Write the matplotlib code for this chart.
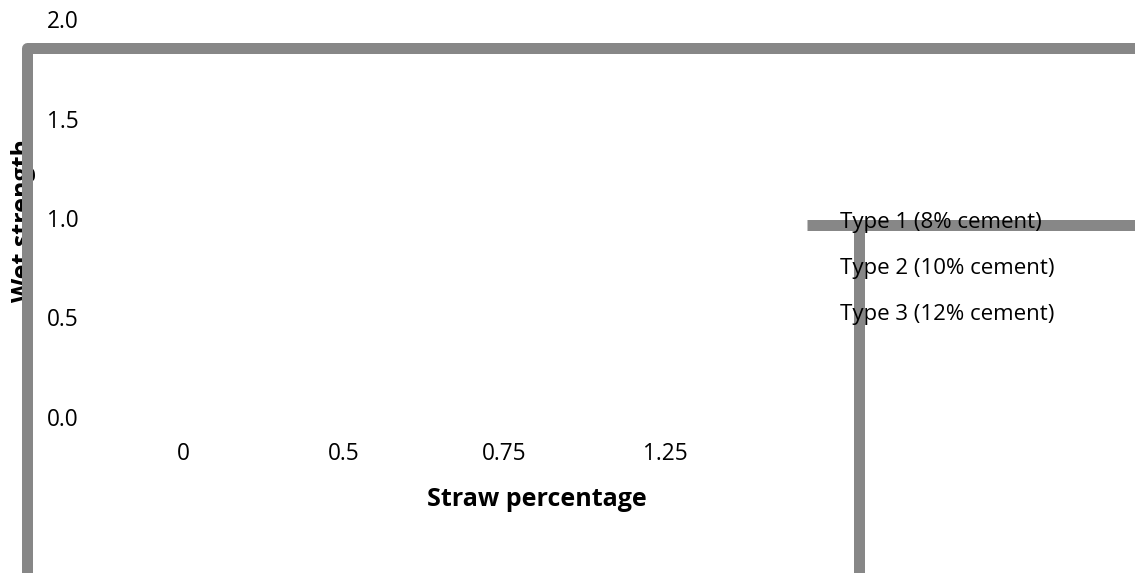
import matplotlib
matplotlib.use("Agg")
import matplotlib.pyplot as plt
from matplotlib.lines import Line2D
import numpy as np

plt.rcParams['font.family'] = ['Open Sans', 'DejaVu Sans']

# ---- data ----
categories = ["0", "0.5", "0.75", "1.25"]
series_names = ["Type 1 (8% cement)", "Type 2 (10% cement)", "Type 3 (12% cement)"]
# the reference shows no visible bars for any series
type1 = [0, 0, 0, 0]
type2 = [0, 0, 0, 0]
type3 = [0, 0, 0, 0]
y_ticks = [0.0, 0.5, 1.0, 1.5, 2.0]
x_label = "Straw percentage"
y_label = "Wet strength"

W, H = 1135, 573
PT = 0.72  # points per pixel at 100 dpi
fig = plt.figure(figsize=(W / 100, H / 100), dpi=100)

def fx(px):
    return px / W

def fy(py):
    return (H - py) / H

# plot area (pixels)
left, right, top, bottom = 102.7, 745.3, 19, 417
ax = fig.add_axes([fx(left), fy(bottom), (right - left) / W, (bottom - top) / H])

x = np.arange(len(categories))
bw = 0.25
handles = []
for i, (name, vals) in enumerate(zip(series_names, [type1, type2, type3])):
    h = ax.bar(x + (i - 1) * bw, vals, bw, label=name, color='none')
    handles.append(h)

ax.set_xlim(-0.5, len(categories) - 0.5)
ax.set_ylim(0, 2.0)
ax.set_xticks(x)
ax.set_xticklabels(categories)
ax.set_yticks(y_ticks)
ax.set_yticklabels([f"{v:.1f}" for v in y_ticks])
for s in ax.spines.values():
    s.set_visible(False)
ax.tick_params(axis='both', length=0, labelsize=16.3, colors='black')
ax.tick_params(axis='x', pad=18.3)
for t in ax.get_yticklabels():
    t.set_horizontalalignment('left')
ax.tick_params(axis='y', pad=(left - 47) * PT)
ax.patch.set_visible(False)

ax.set_xlabel(x_label, fontsize=18, fontweight='bold', va='center', ha='center')
ax.xaxis.set_label_coords((537 - left) / (right - left),
                          ((H - 499) - (H - bottom)) / (bottom - top))
ax.set_ylabel(y_label, fontsize=18, fontweight='bold', va='center', ha='center')
ax.yaxis.set_label_coords((24 - left) / (right - left), ((H - 220) - (H - bottom)) / (bottom - top))

# legend (text only)
leg = fig.legend(handles, series_names, loc='upper left',
                 bbox_to_anchor=(fx(840), fy(212)), bbox_transform=fig.transFigure,
                 frameon=False, handlelength=0, handletextpad=0, borderpad=0,
                 borderaxespad=0, labelspacing=1.13, fontsize=16)

gray = '#878787'
# chart area border
fig.add_artist(Line2D([fx(26.5), fx(26.5), fx(1200)], [fy(700), fy(47.5), fy(47.5)],
                      transform=fig.transFigure, color=gray, lw=11 * PT,
                      solid_joinstyle='round', solid_capstyle='butt', zorder=5))
# legend border
fig.add_artist(Line2D([fx(807), fx(1200)], [fy(224.5), fy(224.5)],
                      transform=fig.transFigure, color=gray, lw=11 * PT,
                      solid_capstyle='butt', zorder=5))
fig.add_artist(Line2D([fx(858.5), fx(858.5)], [fy(230), fy(700)],
                      transform=fig.transFigure, color=gray, lw=11 * PT,
                      solid_capstyle='butt', zorder=5))

fig.savefig("out.png", dpi=100, facecolor='white')
